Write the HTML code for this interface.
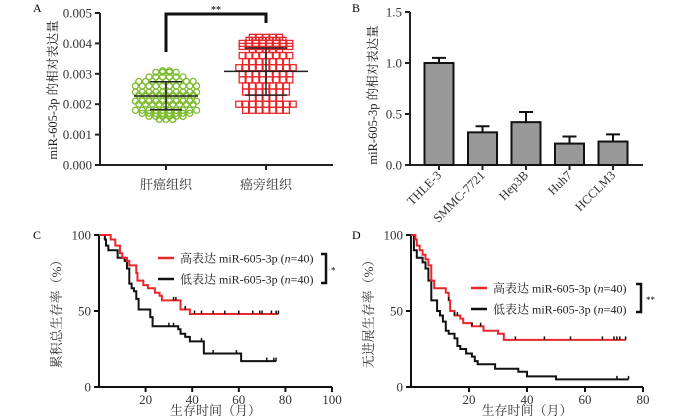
<!DOCTYPE html>
<html><head><meta charset="utf-8"><style>
html,body{margin:0;padding:0;background:#fff}
svg{display:block;font-family:"Liberation Serif","Noto Serif CJK SC",serif}
</style></head><body>
<svg id="fig" width="700" height="419" viewBox="0 0 700 419" xmlns="http://www.w3.org/2000/svg">
<g id="pA"></g>
<g id="pB"></g>
<g id="pC"></g>
<g id="pD"></g>
</svg>
<script>
// Panel A data
const aCategories = ["肝癌组织","癌旁组织"];
const aTicks = ["0.000","0.001","0.002","0.003","0.004","0.005"];
const greenLevels = [0.0031,0.00305,0.0029,0.00275,0.0026,0.0024,0.0023,0.0021,0.0020,0.0018,0.0017,0.0016,0.0015];
const greenCounts = [2,4,6,9,10,10,9,10,9,10,8,6,3];
const greenStats = [0.00227,0.00182,0.00274]; // mean, low, high
const redLevels = [0.0042,0.0041,0.0040,0.0039,0.0038,0.0036,0.0034,0.0032,0.0030,0.0028,0.0026,0.0024,0.0022,0.0020,0.0018];
const redCounts = [5,6,8,8,5,8,7,9,8,8,7,7,5,9,7];
const redStats = [0.00308,0.00230,0.00385];
// Panel B data
const bCategories = ["THLE-3","SMMC-7721","Hep3B","Huh7","HCCLM3"];
const bValues = [1.0,0.32,0.42,0.21,0.23];
const bErrors = [0.05,0.06,0.10,0.07,0.07];
const bTicks = [0,0.5,1.0,1.5];
// Panel C data
const cHighT = [5,7,9,10,12,13,16,16.5,19,21,24,26,27,35,39];
const cHighS = [97,93,88,85,83,80,75,70,67,65,62,60,57,51,48];
const cHighEnd = 77;
const cHighCens = [32,33,37,41,44,49,54,60,66,69,70,74,76,77];
const cLowT = [2.5,3,4,8,11,12,13,14,15,16,17,22,23,34,35,37,39,45,61];
const cLowS = [97,93,90,85,83,78,68,65,63,58,51,46,40,38,35,33,30,22,17];
const cLowEnd = 76;
const cLowCens = [30,32,35,44,49,59,72,75,76];
const cXTicks = [20,40,60,80,100];
// Panel D data
const dHighT = [1.5,2,3,4,5,6,7,8,12,13,13.5,15,17,18,21,25,30,32];
const dHighS = [97,93,90,87,84,80,70,65,62,57,50,47,45,42,40,37,35,31];
const dHighEnd = 74;
const dHighCens = [13,15,16,21,24,36,46,55,66,70,71,72,74];
const dLowT = [1,2,4,5,6,7,9,10,11,12,13,15,16,17,19,21,22,23,29,37,40,50];
const dLowS = [90,85,82,78,70,57,50,47,43,37,35,32,27,25,22,20,17,15,12,10,7,5];
const dLowEnd = 75;
const dLowCens = [71,75];
const dXTicks = [20,40,60,80];
const yTicksKM = [0,50,100];

const NS="http://www.w3.org/2000/svg";
function mk(parent,tag,attrs,text){const e=document.createElementNS(NS,tag);for(const k in attrs)e.setAttribute(k,attrs[k]);if(text!==undefined)e.textContent=text;parent.appendChild(e);return e;}

// ---------- Panel A ----------
(function(){
const g=document.getElementById('pA');
const x0=100,x1=333,y0=165,yTop=13;
const ya=v=>y0-v/0.005*(y0-yTop);
let t=mk(g,'text',{x:33,y:12,'font-size':12},'A');
let ax=mk(g,'path',{d:`M${x0},${yTop} V${y0} H${x1}`,stroke:'#222','stroke-width':2,fill:'none'});
aTicks.forEach(s=>{const v=parseFloat(s);const y=ya(v);
 mk(g,'line',{x1:x0-5,x2:x0,y1:y,y2:y,stroke:'#222','stroke-width':2});
 const l=mk(g,'text',{x:x0-8,y:y+4.5,'text-anchor':'end','font-size':13,fill:'#333'},s);});
const cx=[166,266];
aCategories.forEach((c,i)=>{mk(g,'line',{x1:cx[i],x2:cx[i],y1:y0,y2:y0+5,stroke:'#222','stroke-width':2});
 const l=mk(g,'text',{x:cx[i],y:189,'text-anchor':'middle','font-size':13,fill:'#333'},c);});
let yt=mk(g,'text',{transform:'translate(57,90) rotate(-90)','text-anchor':'middle','font-size':12.5,fill:'#222'},'miR-605-3p 的相对表达量');
let br=mk(g,'path',{d:`M${cx[0]},52 V14 H${cx[1]} V23`,stroke:'#111','stroke-width':3,fill:'none'});
let st=mk(g,'text',{x:216,y:13,'text-anchor':'middle','font-size':10},'**');
function swarm(levels,counts,cxv,shape,color){
 levels.forEach((v,i)=>{const n=counts[i];const y=ya(v);
  for(let k=0;k<n;k++){const x=cxv+(k-(n-1)/2)*6.8;
   let m;
   if(shape==='c'){m=mk(g,'circle',{cx:x,cy:y,r:3,fill:'none',stroke:color,'stroke-width':1.3});}
   else{m=mk(g,'rect',{x:x-3,y:y-3,width:6,height:6,fill:'none',stroke:color,'stroke-width':1.3});}
   }
 });}
swarm(greenLevels,greenCounts,cx[0],'c','#7dbb2d');
swarm(redLevels,redCounts,cx[1],'s','#e8272a');
function stats(s,cxv,w){const m=mk(g,'line',{x1:cxv-w,x2:cxv+w,y1:ya(s[0]),y2:ya(s[0]),stroke:'#222','stroke-width':1.5});
 mk(g,'line',{x1:cxv,x2:cxv,y1:ya(s[1]),y2:ya(s[2]),stroke:'#222','stroke-width':1.5});
 mk(g,'line',{x1:cxv-w*0.5,x2:cxv+w*0.5,y1:ya(s[1]),y2:ya(s[1]),stroke:'#222','stroke-width':1.5});
 mk(g,'line',{x1:cxv-w*0.5,x2:cxv+w*0.5,y1:ya(s[2]),y2:ya(s[2]),stroke:'#222','stroke-width':1.5});}
stats(greenStats,cx[0],32);stats(redStats,cx[1],42);
})();

// ---------- Panel B ----------
(function(){
const g=document.getElementById('pB');
const x0=410,x1=643,y0=165,yTop=12;
const yb=v=>y0-v/1.5*(y0-yTop);
let t=mk(g,'text',{x:352,y:12,'font-size':12},'B');
let ax=mk(g,'path',{d:`M${x0},${yTop} V${y0} H${x1}`,stroke:'#222','stroke-width':2,fill:'none'});
bTicks.forEach(v=>{const y=yb(v);mk(g,'line',{x1:x0-5,x2:x0,y1:y,y2:y,stroke:'#222','stroke-width':2});
 const l=mk(g,'text',{x:x0-8,y:y+4.5,'text-anchor':'end','font-size':13,fill:'#333'},v.toFixed(1));});
let yt=mk(g,'text',{transform:'translate(377,95) rotate(-90)','text-anchor':'middle','font-size':12.5,fill:'#222'},'miR-605-3p 的相对表达量');
const step=43.5,first=439,w=29;
bCategories.forEach((c,i)=>{const cx=first+i*step;
 const e=yb(bValues[i]+bErrors[i]);
 const eb=mk(g,'path',{d:`M${cx},${yb(bValues[i])} V${e} M${cx-7},${e} H${cx+7}`,stroke:'#111','stroke-width':2,fill:'none'});
 const r=mk(g,'rect',{x:cx-w/2,y:yb(bValues[i]),width:w,height:y0-yb(bValues[i]),fill:'#999',stroke:'#111','stroke-width':2});
 mk(g,'line',{x1:cx,x2:cx,y1:y0,y2:y0+5,stroke:'#222','stroke-width':2});
 const l=mk(g,'text',{transform:`translate(${cx+3},${y0+11}) rotate(-45)`,'text-anchor':'end','font-size':12.5,fill:'#333'},c);});
})();

// ---------- KM panels ----------
function km(gid,label,lx,o,xMax,xTicks,title,series,legend,sig){
 const g=document.getElementById(gid);
 const xs=v=>o.x0+v/xMax*(o.x1-o.x0), ys=v=>o.y0-v/100*(o.y0-o.yTop);
 let t=mk(g,'text',{x:lx,y:o.yTop+4,'font-size':12},label);
 let ax=mk(g,'path',{d:`M${o.x0},${o.yTop} V${o.y0} H${o.x1}`,stroke:'#111','stroke-width':2,fill:'none'});
 yTicksKM.forEach(v=>{const y=ys(v);mk(g,'line',{x1:o.x0-5,x2:o.x0,y1:y,y2:y,stroke:'#111','stroke-width':2});
  const l=mk(g,'text',{x:o.x0-8,y:y+4.5,'text-anchor':'end','font-size':13,fill:'#333'},String(v));});
 xTicks.forEach(v=>{const x=xs(v);mk(g,'line',{x1:x,x2:x,y1:o.y0,y2:o.y0+5,stroke:'#111','stroke-width':2});
  const l=mk(g,'text',{x:x,y:o.y0+17,'text-anchor':'middle','font-size':13,fill:'#333'},String(v));});
 let xt=mk(g,'text',{x:(o.x0+o.x1)/2,y:415,'text-anchor':'middle','font-size':13,fill:'#333'},'生存时间（月）');
 let yt=mk(g,'text',{transform:`translate(${o.x0-38},${(o.y0+o.yTop)/2}) rotate(-90)`,'text-anchor':'middle','font-size':13,fill:'#333'},title);
 series.forEach(s=>{let d=`M${xs(0)},${ys(100)}`;
  s.T.forEach((tt,i)=>{d+=` H${xs(tt)} V${ys(s.S[i])}`;});d+=` H${xs(s.end)}`;
  const p=mk(g,'path',{d:d,stroke:s.color,'stroke-width':2,fill:'none'});
  s.C.forEach(c=>{let v=100;s.T.forEach((tt,i)=>{if(tt<=c)v=s.S[i];});
   const m=mk(g,'line',{x1:xs(c),x2:xs(c),y1:ys(v),y2:ys(v)-3.5,stroke:'#111','stroke-width':1.5});});
 });
 legend.forEach((L,i)=>{const y=L.y;
  const ln=mk(g,'line',{x1:L.x,x2:L.x+16,y1:y,y2:y,stroke:L.color,'stroke-width':2.5});
  const tx=mk(g,'text',{x:L.x+22,y:y+4.5,'font-size':12,fill:'#222'});
  tx.innerHTML=L.txt+' miR-605-3p (<tspan font-style="italic">n</tspan>=40)';});
 const b=mk(g,'path',{d:`M${sig.x-5},${sig.y1} H${sig.x} V${sig.y2} H${sig.x-5}`,stroke:'#111','stroke-width':2.5,fill:'none'});
 const st=mk(g,'text',{x:sig.x+5,y:(sig.y1+sig.y2)/2+5,'font-size':9},sig.s);
}
km('pC','C',33,{x0:99,x1:332,y0:387,yTop:235},100,cXTicks,'累积总生存率（%）',
 [{T:cLowT,S:cLowS,end:cLowEnd,C:cLowCens,color:'#111',name:'low-expression-curve'},
  {T:cHighT,S:cHighS,end:cHighEnd,C:cHighCens,color:'#e8272a',name:'high-expression-curve'}],
 [{x:158,y:258,color:'#e8272a',txt:'高表达'},{x:158,y:279,color:'#111',txt:'低表达'}],
 {x:326,y1:254,y2:283,s:'*'});
km('pD','D',352,{x0:411,x1:643,y0:387,yTop:235},80,dXTicks,'无进展生存率（%）',
 [{T:dLowT,S:dLowS,end:dLowEnd,C:dLowCens,color:'#111',name:'low-expression-curve'},
  {T:dHighT,S:dHighS,end:dHighEnd,C:dHighCens,color:'#e8272a',name:'high-expression-curve'}],
 [{x:471,y:288,color:'#e8272a',txt:'高表达'},{x:471,y:309,color:'#111',txt:'低表达'}],
 {x:641,y1:284,y2:312,s:'**'});
</script>
</body></html>
